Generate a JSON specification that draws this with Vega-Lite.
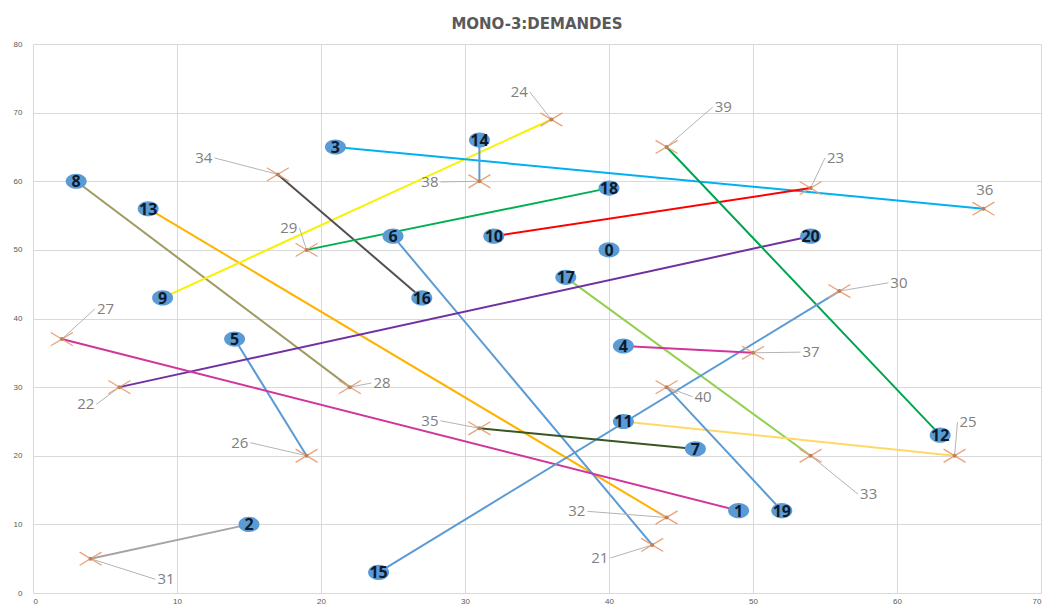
{
  "$schema": "https://vega.github.io/schema/vega-lite/v6.json",
  "width": 1008,
  "height": 549,
  "autosize": {"type": "none"},
  "padding": {"left": 33, "top": 44, "right": 4, "bottom": 11},
  "background": "white",
  "title": {"text": "MONO-3:DEMANDES", "font": "DejaVu Sans", "fontSize": 15, "fontWeight": "bold", "color": "#595959", "offset": 8},
  "config": {
    "view": {"stroke": null},
    "axis": {"gridColor": "#D9D9D9", "gridWidth": 1, "domain": false, "ticks": false, "labelFontSize": 8, "labelColor": "#595959", "labelFont": "Liberation Sans", "title": null}
  },
  "datasets": {
    "nodes": [
      {"id": 0, "x": 40, "y": 50, "kind": "D"},
      {"id": 1, "x": 49, "y": 12, "kind": "D"},
      {"id": 2, "x": 15, "y": 10, "kind": "D"},
      {"id": 3, "x": 21, "y": 65, "kind": "D"},
      {"id": 4, "x": 41, "y": 36, "kind": "D"},
      {"id": 5, "x": 14, "y": 37, "kind": "D"},
      {"id": 6, "x": 25, "y": 52, "kind": "D"},
      {"id": 7, "x": 46, "y": 21, "kind": "D"},
      {"id": 8, "x": 3, "y": 60, "kind": "D"},
      {"id": 9, "x": 9, "y": 43, "kind": "D"},
      {"id": 10, "x": 32, "y": 52, "kind": "D"},
      {"id": 11, "x": 41, "y": 25, "kind": "D"},
      {"id": 12, "x": 63, "y": 23, "kind": "D"},
      {"id": 13, "x": 8, "y": 56, "kind": "D"},
      {"id": 14, "x": 31, "y": 66, "kind": "D"},
      {"id": 15, "x": 24, "y": 3, "kind": "D"},
      {"id": 16, "x": 27, "y": 43, "kind": "D"},
      {"id": 17, "x": 37, "y": 46, "kind": "D"},
      {"id": 18, "x": 40, "y": 59, "kind": "D"},
      {"id": 19, "x": 52, "y": 12, "kind": "D"},
      {"id": 20, "x": 54, "y": 52, "kind": "D"},
      {"id": 21, "x": 43, "y": 7, "kind": "X", "ex": 40.1, "ey": 5.1, "side": "L"},
      {"id": 22, "x": 6, "y": 30, "kind": "X", "ex": 4.4, "ey": 27.5, "side": "L"},
      {"id": 23, "x": 54, "y": 59, "kind": "X", "ex": 55.0, "ey": 63.4, "side": "R"},
      {"id": 24, "x": 36, "y": 69, "kind": "X", "ex": 34.5, "ey": 73.0, "side": "L"},
      {"id": 25, "x": 64, "y": 20, "kind": "X", "ex": 64.2, "ey": 24.9, "side": "R"},
      {"id": 26, "x": 19, "y": 20, "kind": "X", "ex": 15.1, "ey": 21.9, "side": "L"},
      {"id": 27, "x": 2, "y": 37, "kind": "X", "ex": 4.3, "ey": 41.4, "side": "R"},
      {"id": 28, "x": 22, "y": 30, "kind": "X", "ex": 23.5, "ey": 30.6, "side": "R"},
      {"id": 29, "x": 19, "y": 50, "kind": "X", "ex": 18.5, "ey": 53.2, "side": "L"},
      {"id": 30, "x": 56, "y": 44, "kind": "X", "ex": 59.4, "ey": 45.2, "side": "R"},
      {"id": 31, "x": 4, "y": 5, "kind": "X", "ex": 8.5, "ey": 2.0, "side": "R"},
      {"id": 32, "x": 44, "y": 11, "kind": "X", "ex": 38.5, "ey": 11.9, "side": "L"},
      {"id": 33, "x": 54, "y": 20, "kind": "X", "ex": 57.3, "ey": 14.4, "side": "R"},
      {"id": 34, "x": 17, "y": 61, "kind": "X", "ex": 12.6, "ey": 63.4, "side": "L"},
      {"id": 35, "x": 31, "y": 24, "kind": "X", "ex": 28.3, "ey": 25.1, "side": "L"},
      {"id": 36, "x": 66, "y": 56, "kind": "X", "ex": 66.1, "ey": 58.7, "side": "T"},
      {"id": 37, "x": 50, "y": 35, "kind": "X", "ex": 53.3, "ey": 35.1, "side": "R"},
      {"id": 38, "x": 31, "y": 60, "kind": "X", "ex": 28.3, "ey": 59.9, "side": "L"},
      {"id": 39, "x": 44, "y": 65, "kind": "X", "ex": 47.2, "ey": 70.8, "side": "R"},
      {"id": 40, "x": 44, "y": 30, "kind": "X", "ex": 45.8, "ey": 28.6, "side": "R"}
    ],
    "routes": [
      {"route": "2-31", "a": 2, "b": 31},
      {"route": "5-26", "a": 5, "b": 26},
      {"route": "8-28", "a": 8, "b": 28},
      {"route": "13-32", "a": 13, "b": 32},
      {"route": "9-24", "a": 9, "b": 24},
      {"route": "34-16", "a": 34, "b": 16},
      {"route": "3-36", "a": 3, "b": 36},
      {"route": "14-38", "a": 14, "b": 38},
      {"route": "29-18", "a": 29, "b": 18},
      {"route": "10-23", "a": 10, "b": 23},
      {"route": "6-21", "a": 6, "b": 21},
      {"route": "17-33", "a": 17, "b": 33},
      {"route": "22-20", "a": 22, "b": 20},
      {"route": "27-1", "a": 27, "b": 1},
      {"route": "39-12", "a": 39, "b": 12},
      {"route": "15-30", "a": 15, "b": 30},
      {"route": "4-37", "a": 4, "b": 37},
      {"route": "35-7", "a": 35, "b": 7},
      {"route": "11-25", "a": 11, "b": 25},
      {"route": "40-19", "a": 40, "b": 19}
    ]
  },
  "layer": [
    {
      "data": {"name": "routes"},
      "transform": [
        {"fold": ["a", "b"], "as": ["end", "id"]},
        {"lookup": "id", "from": {"data": {"name": "nodes"}, "key": "id", "fields": ["x", "y"]}}
      ],
      "mark": {"type": "line", "strokeWidth": 2},
      "encoding": {
        "x": {"field": "x", "type": "quantitative", "scale": {"domain": [0, 70], "nice": false}, "axis": {"values": [0, 10, 20, 30, 40, 50, 60, 70], "labelPadding": 4}},
        "y": {"field": "y", "type": "quantitative", "scale": {"domain": [0, 80], "nice": false}, "axis": {"values": [0, 10, 20, 30, 40, 50, 60, 70, 80], "labelPadding": 11}},
        "detail": {"field": "route"},
        "order": {"field": "end"},
        "color": {"field": "route", "type": "nominal", "legend": null, "scale": {
          "domain": ["2-31", "5-26", "8-28", "13-32", "9-24", "34-16", "3-36", "14-38", "29-18", "10-23", "6-21", "17-33", "22-20", "27-1", "39-12", "15-30", "4-37", "35-7", "11-25", "40-19"],
          "range": ["#A5A5A5", "#5B9BD5", "#9E9A62", "#FFB300", "#F7F200", "#505050", "#00B0F0", "#5B9BD5", "#00B050", "#FF0000", "#5B9BD5", "#92D050", "#7030A0", "#D0359A", "#00A550", "#5B9BD5", "#D0359A", "#375623", "#FFD966", "#5B9BD5"]
        }}
      }
    },
    {
      "data": {"name": "nodes"},
      "transform": [{"filter": "datum.kind == 'X' && datum.side != 'T'"}],
      "mark": {"type": "rule", "color": "#B4B4B4", "strokeWidth": 1},
      "encoding": {
        "x": {"field": "x", "type": "quantitative"},
        "y": {"field": "y", "type": "quantitative"},
        "x2": {"field": "ex"},
        "y2": {"field": "ey"}
      }
    },
    {
      "data": {"name": "nodes"},
      "transform": [{"filter": "datum.kind == 'X'"}],
      "mark": {"type": "point", "shape": "M-1,-0.6L1,0.6M-1,0.6L1,-0.6", "filled": false, "stroke": "#E9A27A", "strokeWidth": 1.3, "size": 484, "opacity": 1},
      "encoding": {
        "x": {"field": "x", "type": "quantitative"},
        "y": {"field": "y", "type": "quantitative"}
      }
    },
    {
      "data": {"name": "nodes"},
      "transform": [{"filter": "datum.kind == 'X'"}],
      "mark": {"type": "point", "shape": "circle", "filled": true, "color": "#B9825A", "size": 16, "opacity": 1},
      "encoding": {
        "x": {"field": "x", "type": "quantitative"},
        "y": {"field": "y", "type": "quantitative"}
      }
    },
    {
      "data": {"name": "nodes"},
      "transform": [{"filter": "datum.kind == 'D'"}],
      "mark": {"type": "point", "shape": "M-1,0A1,0.72,0,1,1,1,0A1,0.72,0,1,1,-1,0Z", "filled": true, "color": "#5B9BD5", "size": 441, "opacity": 1},
      "encoding": {
        "x": {"field": "x", "type": "quantitative"},
        "y": {"field": "y", "type": "quantitative"}
      }
    },
    {
      "data": {"name": "nodes"},
      "transform": [{"filter": "datum.kind == 'D'"}],
      "mark": {"type": "text", "font": "Open Sans", "fontSize": 16, "fontWeight": "bold", "color": "#0F1A2B", "align": "center", "baseline": "middle", "dy": 1},
      "encoding": {
        "x": {"field": "x", "type": "quantitative"},
        "y": {"field": "y", "type": "quantitative"},
        "text": {"field": "id"}
      }
    },
    {
      "data": {"name": "nodes"},
      "transform": [{"filter": "datum.kind == 'X' && datum.side == 'L'"}],
      "mark": {"type": "text", "font": "Open Sans", "fontSize": 15, "color": "#808080", "align": "right", "baseline": "middle", "dx": -2},
      "encoding": {
        "x": {"field": "ex", "type": "quantitative"},
        "y": {"field": "ey", "type": "quantitative"},
        "text": {"field": "id"}
      }
    },
    {
      "data": {"name": "nodes"},
      "transform": [{"filter": "datum.kind == 'X' && datum.side == 'R'"}],
      "mark": {"type": "text", "font": "Open Sans", "fontSize": 15, "color": "#808080", "align": "left", "baseline": "middle", "dx": 2},
      "encoding": {
        "x": {"field": "ex", "type": "quantitative"},
        "y": {"field": "ey", "type": "quantitative"},
        "text": {"field": "id"}
      }
    },
    {
      "data": {"name": "nodes"},
      "transform": [{"filter": "datum.kind == 'X' && datum.side == 'T'"}],
      "mark": {"type": "text", "font": "Open Sans", "fontSize": 15, "color": "#808080", "align": "center", "baseline": "middle"},
      "encoding": {
        "x": {"field": "ex", "type": "quantitative"},
        "y": {"field": "ey", "type": "quantitative"},
        "text": {"field": "id"}
      }
    }
  ]
}
